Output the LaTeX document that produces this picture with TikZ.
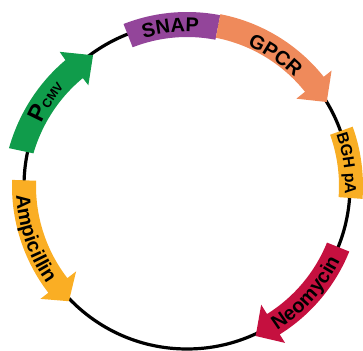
\documentclass[tikz,border=0pt]{standalone}
\usepackage{fontspec}
\setmainfont{Liberation Sans}
\usetikzlibrary{decorations.text}
\definecolor{snapc}{HTML}{93459A}
\definecolor{gpcrc}{HTML}{EF8A5B}
\definecolor{bghc}{HTML}{F8AE24}
\definecolor{neoc}{HTML}{C5103F}
\definecolor{cmvc}{HTML}{109C4B}
\definecolor{ampc}{HTML}{FAAE24}
\newcommand{\labf}{\fontsize{20}{20}\selectfont\bfseries}
\newcommand{\labg}{\fontsize{16}{16}\selectfont\bfseries}
\newcommand{\labb}{\fontsize{24}{24}\selectfont\bfseries}
\newcommand{\labs}{\fontsize{12.5}{12.5}\selectfont\bfseries}
\newcommand{\segshape}[5]{% from, to, r1, r2, colour
  \fill[#5] (#1:#4) arc[start angle=#1,end angle=#2,radius=#4] -- (#2:#3)
    arc[start angle=#2,end angle=#1,radius=#3] -- cycle;}
\newcommand{\arrshape}[5]{% from, headbase, tip, tip radius, colour
  \fill[#5] (#1:175) arc[start angle=#1,end angle=#2,radius=175] -- (#2:185) -- (#3:#4) -- (#2:140)
    -- (#2:151) arc[start angle=#2,end angle=#1,radius=151] -- cycle;}
\newcommand{\arclab}[4]{% from, to, radius, text
  \path[decorate,decoration={text along path,text align=center,text={#4}}]
    (#1:#3) arc[start angle=#1,end angle=#2,radius=#3];}
\begin{document}
\begin{tikzpicture}[x=1bp,y=1bp]
\useasboundingbox (0,0) rectangle (363,351);
\begin{scope}[shift={(187,165)}]
\draw[line width=3.2bp,black] (0,0) circle[radius=163];
\segshape{111.4}{79}{149}{174}{snapc}
\arrshape{79}{38.6}{31}{163}{gpcrc}
\segshape{19.7}{-4.2}{152}{176}{bghc}
\arrshape{-22}{-58}{-65.4}{165}{neoc}
\arrshape{178}{217.6}{224.3}{165}{ampc}
% CMV arrow: band slightly off-centre
\fill[cmvc] plot[domain=168:134,samples=25] (\x:{182-7*(168-\x)/34}) -- (133.5:185) -- (125.7:161) -- (134.4:141)
  -- plot[domain=134:168,samples=25] (\x:{157-7*(168-\x)/34}) -- cycle;
\arclab{116}{76}{154}{|\labf|SNAP}
\arclab{86}{26}{153}{|\labf|GPCR}
\arclab{32}{-16}{158}{|\labg|BGH pA}
\arclab{-72}{-12}{170}{|\labf|Neomycin}
\arclab{172}{226}{171}{|\labf|Ampicillin}
\arclab{176}{122}{158}{|\labb|P|\labs|CMV}
\end{scope}
\end{tikzpicture}
\end{document}
